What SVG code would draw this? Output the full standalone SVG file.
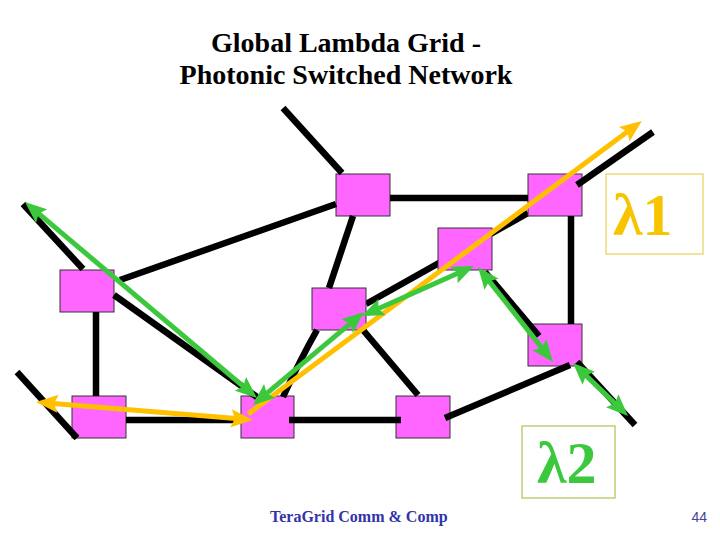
<svg xmlns="http://www.w3.org/2000/svg" width="720" height="540" viewBox="0 0 720 540">
<style>
.node{fill:#FF66FF;stroke:#333333;stroke-width:1}
.link{stroke:#000000;stroke-width:6.5;fill:none}
.yel{stroke:#FFC000;stroke-width:5;fill:none}
.grn{stroke:#3CC83C;stroke-width:5;fill:none}
.title{font-family:"Liberation Serif","Times New Roman",serif;font-weight:bold;font-size:28px;fill:#000000}
.lam{font-family:"Liberation Serif","Times New Roman",serif;font-weight:bold;font-size:60px}
</style>
<defs>
<marker id="ay" markerUnits="userSpaceOnUse" viewBox="0 0 22 18" markerWidth="22" markerHeight="18" refX="11" refY="9" orient="auto-start-reverse"><path d="M0,0 L22,9 L0,18 L4,9 z" fill="#FFC000"/></marker>
<marker id="ag" markerUnits="userSpaceOnUse" viewBox="0 0 22 18" markerWidth="22" markerHeight="18" refX="11" refY="9" orient="auto-start-reverse"><path d="M0,0 L22,9 L0,18 L4,9 z" fill="#3CC83C"/></marker>
</defs>
<rect width="720" height="540" fill="#FFFFFF"/>
<g id="title">
<text class="title" x="346" y="52" text-anchor="middle">Global Lambda Grid -</text>
<text class="title" x="346" y="84" text-anchor="middle">Photonic Switched Network</text>
</g>
<g id="connectors-under">
<line class="link" x1="366" y1="304" x2="528" y2="213"/>
</g>
<g id="nodes">
<g id="nA"><rect class="node" x="60" y="270" width="54" height="42"/></g>
<g id="nB"><rect class="node" x="72" y="396" width="54" height="42"/></g>
<g id="nC"><rect class="node" x="241" y="396" width="53" height="42"/></g>
<g id="nD"><rect class="node" x="336" y="174" width="54" height="42"/></g>
<g id="nE"><rect class="node" x="312" y="288" width="54" height="42"/></g>
<g id="nF"><rect class="node" x="438" y="228" width="54" height="42"/></g>
<g id="nG"><rect class="node" x="528" y="174" width="54" height="42"/></g>
<g id="nH"><rect class="node" x="528" y="324" width="54" height="42"/></g>
<g id="nI"><rect class="node" x="396" y="396" width="54" height="42"/></g>
</g>
<g id="connectors">
<line class="link" x1="283" y1="108" x2="342" y2="173"/>
<line class="link" x1="23" y1="204" x2="83" y2="269"/>
<line class="link" x1="120" y1="280" x2="336" y2="204"/>
<line class="link" x1="114" y1="295" x2="257" y2="397"/>
<line class="link" x1="96" y1="312" x2="96" y2="396"/>
<line class="link" x1="17" y1="372" x2="77" y2="438"/>
<line class="link" x1="126" y1="420" x2="241" y2="420"/>
<line class="link" x1="289" y1="420" x2="401" y2="420"/>
<line class="link" x1="353" y1="216" x2="329" y2="288"/>
<line class="link" x1="390" y1="198" x2="528" y2="198"/>
<path class="link" d="M317,330 Q300,360 283,397"/>
<line class="link" x1="363" y1="330" x2="418" y2="395"/>
<line class="link" x1="485" y1="272" x2="539" y2="336"/>
<line class="link" x1="571" y1="216" x2="571" y2="324"/>
<line class="link" x1="577" y1="185" x2="653" y2="132"/>
<line class="link" x1="445" y1="418" x2="570" y2="365"/>
<line class="link" x1="577" y1="362" x2="635" y2="425"/>
</g>
<g id="lambda1-path">
<line class="yel" x1="47" y1="402.9" x2="242" y2="419.1" marker-start="url(#ay)" marker-end="url(#ay)"/>
<line class="yel" x1="248" y1="414" x2="633" y2="127.6" marker-end="url(#ay)"/>
</g>
<g id="lambda2-path">
<line class="grn" x1="33.4" y1="209.1" x2="248.6" y2="390.9" marker-start="url(#ag)" marker-end="url(#ag)"/>
<line class="grn" x1="261.4" y1="397.9" x2="355.6" y2="319.1" marker-start="url(#ag)" marker-end="url(#ag)"/>
<line class="grn" x1="372" y1="311.5" x2="464" y2="270.5" marker-start="url(#ag)" marker-end="url(#ag)"/>
<line class="grn" x1="484.8" y1="275.6" x2="546.2" y2="353.4" marker-start="url(#ag)" marker-end="url(#ag)"/>
<line class="grn" x1="580.9" y1="370.6" x2="620.1" y2="408.4" marker-start="url(#ag)" marker-end="url(#ag)"/>
</g>
<g id="label-l1">
<rect x="606" y="174" width="97" height="80" fill="#FFFFFF" stroke="#E8CF60" stroke-width="1.2"/>
<text class="lam" x="613" y="235" fill="#F8C400">λ1</text>
</g>
<g id="label-l2">
<rect x="522" y="426" width="93" height="72" fill="#FFFFFF" stroke="#B4C050" stroke-width="1.2"/>
<text class="lam" x="537" y="483" fill="#3CC83C">λ2</text>
</g>
<g id="footer">
<text x="270" y="522" font-family="Liberation Serif,'Times New Roman',serif" font-weight="bold" font-size="16" fill="#3333AA">TeraGrid Comm &amp; Comp</text>
<text x="707" y="522" text-anchor="end" font-family="Liberation Sans,Arial,sans-serif" font-size="14" fill="#444499">44</text>
</g>
</svg>
